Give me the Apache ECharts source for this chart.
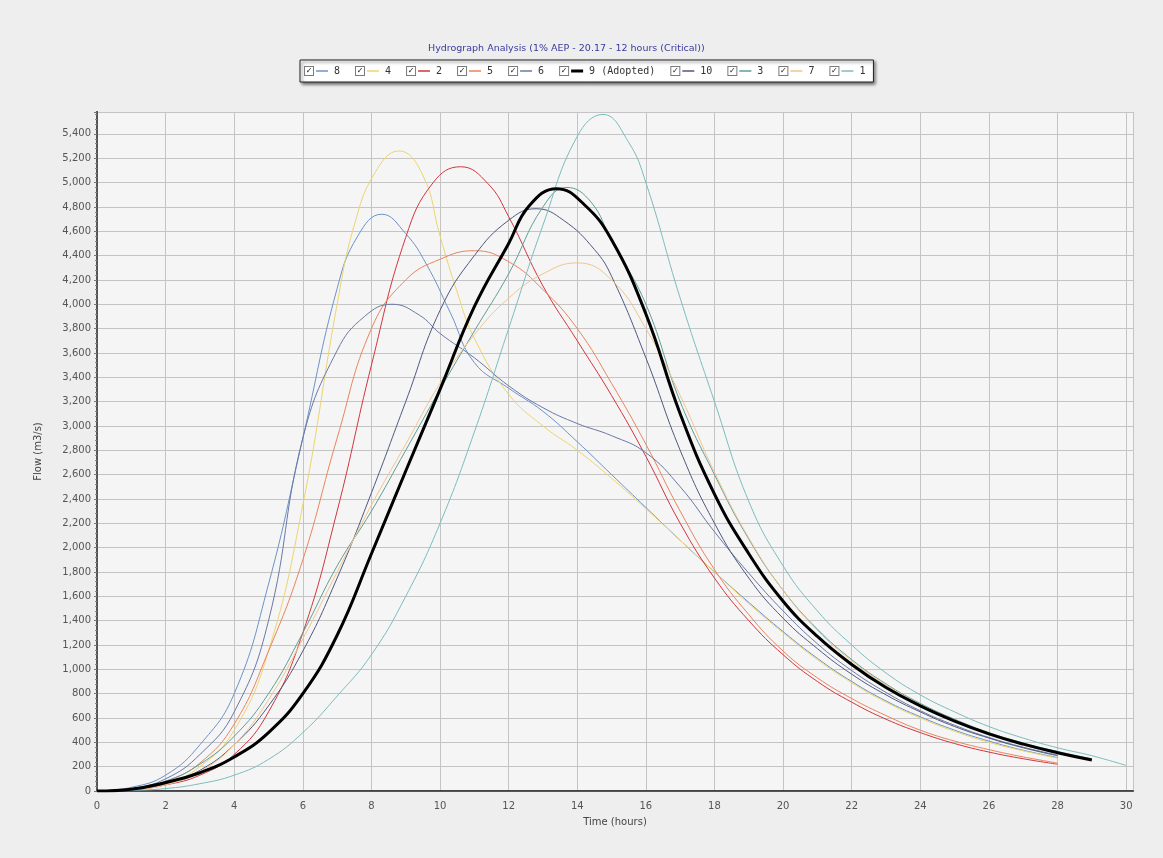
<!DOCTYPE html>
<html>
<head>
<meta charset="utf-8">
<script src="https://cdn.jsdelivr.net/npm/echarts@6/dist/echarts.min.js"></script>
<style>
  html, body { margin: 0; padding: 0; background: #eeeeee; }
  #chart { width: 1163px; height: 858px; }
</style>
</head>
<body>
<div id="chart"></div>
<script>
// times (hours) and flows (m3/s) for each hydrograph
// hourly, with a few extra points around the peaks
var t8 = [0,1,2,3,4,5,6,7,7.6,8.3,9,9.6,10.3,11,12,13,14,15,16,17,18,19,20,21,22,23,24,25,26,27,28]
var q8 = [0,30,130,380,800,1700,2900,4130,4560,4740,4580,4330,3930,3520,3310,3120,2870,2600,2330,2060,1800,1550,1310,1090,900,740,610,500,410,335,275]

var t4 = [0,1,2,3,4,5,6,7,7.5,8.1,8.8,9.5,10,10.5,11,12,13,14,15,16,17,18,19,20,21,22,23,24,25,26,27,28]
var q4 = [0,15,60,200,500,1150,2350,4000,4650,5080,5260,5060,4560,4100,3720,3260,3000,2800,2570,2320,2060,1800,1540,1300,1080,890,730,600,490,400,330,270]

var t2 = [0,1,2,3,4,5,6,7,8,9,9.8,10.6,11.4,12,13,14,15,16,17,18,19,20,21,22,23,24,25,26,27,28]
var q2 = [0,10,50,130,300,650,1300,2300,3500,4550,5000,5130,4990,4720,4150,3700,3250,2750,2200,1750,1400,1120,900,730,590,480,390,320,265,220]

var t5 = [0,1,2,3,4,5,6,7,8,9,10,11,12,13,14,15,16,17,18,19,20,21,22,23,24,25,26,27,28]
var q5 = [0,15,80,230,550,1150,1900,2900,3800,4200,4370,4440,4350,4120,3800,3350,2850,2300,1820,1450,1150,930,760,620,500,410,340,280,230]

var t6 = [0,1,2,3,4,5,6,7,7.8,8.6,9.4,10,11,12,13,14,15,16,17,18,19,20,21,22,23,24,25,26,27,28]
var q6 = [0,20,100,300,650,1400,2900,3620,3900,4000,3910,3760,3560,3330,3150,3020,2920,2780,2500,2130,1790,1480,1210,990,810,660,540,440,360,295]

var t9 = [0,1,2,3,4,5,6,7,8,9,10,11,12,12.6,13.4,14.2,15,16,17,18,19,20,21,22,23,24,25,26,27,28,29]
var q9 = [0,15,70,150,280,480,800,1280,1950,2630,3300,3980,4500,4810,4950,4820,4530,3920,3100,2440,1950,1560,1270,1040,850,700,575,470,385,315,255]

var t10 = [0,1,2,3,4,5,6,7,8,9,10,11,12,12.8,13.6,14.5,15,16,17,18,19,20,21,22,23,24,25,26,27,28]
var q10 = [0,10,60,170,380,700,1150,1750,2450,3200,3950,4400,4690,4785,4690,4450,4230,3560,2800,2200,1750,1420,1170,960,790,650,530,435,355,290]

var t3 = [0,1,2,3,4,5,6,7,8,9,10,11,12,13,13.7,14.4,15,16,17,18,19,20,21,22,23,24,25,26,27,28,29]
var q3 = [0,15,80,220,450,800,1300,1850,2300,2800,3300,3780,4250,4800,4960,4840,4520,4000,3200,2600,2070,1650,1330,1080,880,720,590,480,395,325,265]

var t7 = [0,1,2,3,4,5,6,7,8,9,10,11,12,13,14,15,16,17,18,19,20,21,22,23,24,25,26,27,28]
var q7 = [0,10,50,160,380,750,1250,1800,2350,2850,3350,3750,4050,4250,4340,4200,3800,3250,2620,2080,1650,1320,1070,870,710,580,470,385,315]

var t1 = [0,1,2,3,4,5,6,7,8,9,10,11,12,13,14,14.75,15.5,16,17,18,19,20,21,22,23,24,25,26,27,28,29,30]
var q1 = [0,5,20,60,130,260,480,780,1120,1600,2200,2950,3800,4650,5380,5560,5330,5000,4050,3200,2380,1850,1480,1200,970,790,650,530,435,355,290,210]

var seriesNames = ['8', '4', '2', '5', '6', '9 (Adopted)', '10', '3', '7', '1']
var seriesTimes = [t8, t4, t2, t5, t6, t9, t10, t3, t7, t1]
var seriesFlows = [q8, q4, q2, q5, q6, q9, q10, q3, q7, q1]
var seriesColors = ['#6c93c6', '#ecd46e', '#d2353f', '#e8845c', '#6b78a6', '#000000', '#4f587e', '#5f9e98', '#f2c48c', '#7cbcbc']

var chart = echarts.init(document.getElementById('chart'))

// legend text: checkbox, coloured line, label
var rich = {
  cb: {
    fontFamily: 'DejaVu Sans', fontSize: 8, fontWeight: 'bold', color: '#111',
    width: 8, height: 8, lineHeight: 9, align: 'center', verticalAlign: 'middle',
    backgroundColor: '#fff', borderColor: '#7a7a7a', borderWidth: 1
  },
  gap: { width: 3, height: 2 },
  gap2: { width: 6, height: 2 }
}
seriesNames.forEach(function (name, i) {
  rich['l' + i] = {
    width: 12,
    height: name.indexOf('Adopted') >= 0 ? 3 : 1.5,
    backgroundColor: seriesColors[i],
    verticalAlign: 'middle'
  }
})

var series = seriesNames.map(function (name, i) {
  var times = seriesTimes[i]
  var flows = seriesFlows[i]
  if (times.length !== flows.length) console.warn('length mismatch', name)
  var adopted = name.indexOf('Adopted') >= 0
  return {
    name: name,
    type: 'line',
    smooth: 0.45,
    showSymbol: false,
    z: adopted ? 5 : 2,
    lineStyle: { color: seriesColors[i], width: adopted ? 3 : 1 },
    itemStyle: { color: seriesColors[i] },
    data: flows.map(function (v, k) { return [times[k], v] })
  }
})

var option = {
  backgroundColor: '#eeeeee',
  animation: false,
  title: {
    text: 'Hydrograph Analysis (1% AEP - 20.17 - 12 hours (Critical))',
    left: 423,
    top: 39,
    textStyle: { color: '#3a3a9c', fontSize: 9.5, fontWeight: 'normal', fontFamily: 'DejaVu Sans' }
  },
  legend: {
    data: seriesNames,
    left: 300,
    top: 60,
    icon: 'none',
    itemWidth: 0,
    itemHeight: 10,
    itemGap: 11,
    padding: [6, 8, 6, 0],
    backgroundColor: '#ffffff',
    borderColor: '#222',
    borderWidth: 1,
    shadowColor: 'rgba(0,0,0,0.55)',
    shadowBlur: 3,
    shadowOffsetX: 2,
    shadowOffsetY: 2,
    selectedMode: false,
    formatter: function (name) {
      var i = seriesNames.indexOf(name)
      return '{cb|✓}{gap|}{l' + i + '|}{gap2|}' + name
    },
    textStyle: { fontFamily: 'DejaVu Sans Mono', fontSize: 10, color: '#333', rich: rich }
  },
  grid: {
    left: 97,
    right: 30,
    top: 112,
    bottom: 67,
    show: true,
    backgroundColor: '#f5f5f5',
    borderWidth: 0
  },
  xAxis: [
    {
      type: 'value',
      min: 0,
      max: 30.2,
      interval: 2,
      offset: 4,
      name: 'Time (hours)',
      nameLocation: 'middle',
      nameGap: 22,
      nameTextStyle: { color: '#444', fontSize: 10, fontFamily: 'DejaVu Sans' },
      axisLine: { lineStyle: { color: '#444', width: 2 } },
      axisTick: { show: false },
      axisLabel: { color: '#555', fontSize: 10, fontFamily: 'DejaVu Sans', margin: 6, showMaxLabel: false },
      splitLine: { show: true, lineStyle: { color: '#c4c4c4', width: 1 } }
    },
    {
      type: 'value',
      position: 'top',
      min: 0,
      max: 30.2,
      axisLine: { lineStyle: { color: '#555', width: 1 } },
      axisTick: { show: false },
      axisLabel: { show: false },
      splitLine: { show: false }
    }
  ],
  yAxis: [
    {
      type: 'value',
      min: 0,
      max: 5580,
      interval: 200,
      name: 'Flow (m3/s)',
      nameLocation: 'middle',
      nameGap: 54,
      nameTextStyle: { color: '#444', fontSize: 10, fontFamily: 'DejaVu Sans' },
      axisLine: { show: true, lineStyle: { color: '#444', width: 2 } },
      axisTick: { show: true, length: 3, lineStyle: { color: '#777' } },
      minorTick: { show: true, splitNumber: 5, length: 2, lineStyle: { color: '#888' } },
      axisLabel: {
        color: '#555', fontSize: 10, fontFamily: 'DejaVu Sans', margin: 6, showMaxLabel: false,
        formatter: function (v) { return v.toLocaleString('en-US') }
      },
      splitLine: { show: true, lineStyle: { color: '#c4c4c4', width: 1 } }
    },
    {
      type: 'value',
      position: 'right',
      min: 0,
      max: 5580,
      axisLine: { show: true, lineStyle: { color: '#555', width: 2 } },
      axisTick: { show: false },
      axisLabel: { show: false },
      splitLine: { show: false }
    }
  ],
  series: series
}

chart.setOption(option)
window.onresize = chart.resize
</script>
</body>
</html>
